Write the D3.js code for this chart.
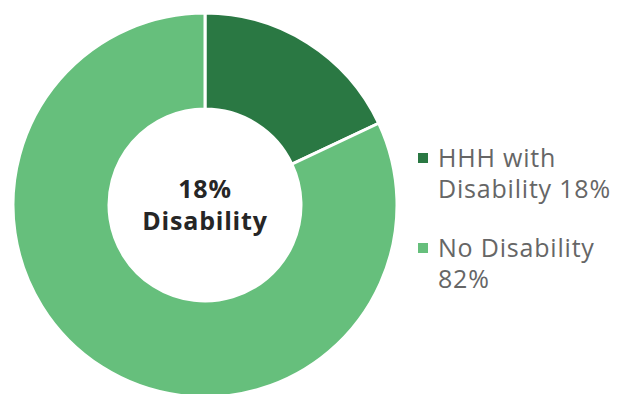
<!DOCTYPE html>
<html>
<head>
<meta charset="utf-8">
<script src="https://cdn.jsdelivr.net/npm/d3@7"></script>
<style>
  body { margin: 0; background: #fff; }
  svg { display: block; }
</style>
</head>
<body>
<svg width="617" height="394"></svg>
<script>
// data
var labels = ["HHH with Disability", "No Disability"];
var values = [18, 82];
var colors = ["#2a7843", "#66bf7c"];
var centerLines = ["18%", "Disability"];

var svg = d3.select("svg");
var cx = 205, cy = 205, outerR = 192, innerR = 96;

var pie = d3.pie().sort(null).value(function(d) { return d; });
var arc = d3.arc().innerRadius(innerR).outerRadius(outerR);

var g = svg.append("g").attr("transform", "translate(" + cx + "," + cy + ")");

g.selectAll("path")
  .data(pie(values))
  .enter().append("path")
    .attr("d", arc)
    .attr("fill", function(d, i) { return colors[i]; })
    .attr("stroke", "#fff")
    .attr("stroke-width", 3);

// center label
g.selectAll("text.center")
  .data(centerLines)
  .enter().append("text")
    .attr("class", "center")
    .attr("text-anchor", "middle")
    .attr("y", function(d, i) { return i === 0 ? -7 : 25; })
    .style("font-family", "'Open Sans', sans-serif")
    .style("font-weight", "bold")
    .style("font-size", "25px")
    .style("letter-spacing", "0.8px")
    .attr("fill", "#262626")
    .text(function(d) { return d; });

// legend
var legendRows = [
  [labels[0].replace(" Disability", ""), "Disability " + values[0] + "%"],
  [labels[1], values[1] + "%"]
];
var legend = svg.append("g").attr("transform", "translate(418,0)");
var item = legend.selectAll("g")
  .data(legendRows)
  .enter().append("g")
    .attr("transform", function(d, i) { return "translate(0," + (158 + i * 90) + ")"; });

item.append("rect")
  .attr("x", 0).attr("y", -5)
  .attr("width", 10).attr("height", 10)
  .attr("fill", function(d, i) { return colors[i]; });

item.each(function(rows) {
  d3.select(this).selectAll("text")
    .data(rows)
    .enter().append("text")
      .attr("x", 20)
      .attr("y", function(d, j) { return 9 + j * 31; })
      .style("font-family", "'Open Sans', sans-serif")
      .style("font-size", "25px")
      .style("letter-spacing", "0.8px")
      .attr("fill", "#666")
      .text(function(d) { return d; });
});
</script>
</body>
</html>
